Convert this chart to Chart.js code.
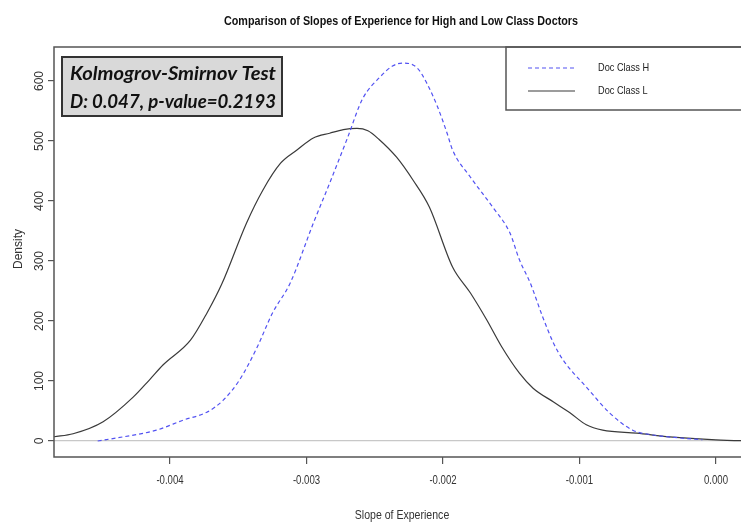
<!DOCTYPE html>
<html>
<head>
<meta charset="utf-8">
<script src="https://cdn.jsdelivr.net/npm/chart.js@4.4.1/dist/chart.umd.min.js"></script>
<style>
  html, body { margin: 0; padding: 0; background: #fff; overflow: hidden; }
</style>
</head>
<body>
<canvas id="chart" width="760" height="525"></canvas>
<script>
// density curves
const highSlope = [-0.00453, -0.00434, -0.00410, -0.00390, -0.00373, -0.00361, -0.00349, -0.00336, -0.00325, -0.00312,
  -0.00295, -0.00283, -0.00270, -0.00259, -0.00246, -0.00237, -0.00229, -0.00219, -0.00212, -0.00204,
  -0.00197, -0.00193, -0.00180, -0.00163, -0.00151, -0.00144, -0.00136, -0.00127, -0.00119, -0.00112,
  -0.00095, -0.00078, -0.00061, -0.00046, -0.00026, -0.00010]
const highDensity = [0, 7, 18, 35, 48, 68, 102, 157, 213, 263,
  363, 430, 505, 570, 607, 625, 630, 622, 597, 557,
  513, 485, 440, 388, 347, 302, 263, 207, 163, 135,
  90, 47, 18, 10, 5, 2]

const lowSlope = [-0.00485, -0.00471, -0.00449, -0.00427, -0.00415, -0.00405, -0.00385, -0.00373, -0.00362, -0.00344,
  -0.00332, -0.00319, -0.00307, -0.00295, -0.00283, -0.00273, -0.00263, -0.00255, -0.00247, -0.00234,
  -0.00222, -0.00210, -0.00193, -0.00180, -0.00168, -0.00157, -0.00144, -0.00134, -0.00119, -0.00107,
  -0.00095, -0.00083, -0.00058, -0.00034, 0, 0.00029]
const lowDensity = [7, 12, 32, 73, 102, 127, 168, 213, 262, 363,
  418, 463, 485, 505, 513, 519, 521, 517, 503, 473,
  435, 390, 290, 247, 202, 157, 113, 88, 65, 47,
  27, 18, 13, 7, 2, 0]

const seriesNames = ['Doc Class H', 'Doc Class L']
const xTicks = [-0.004, -0.003, -0.002, -0.001, 0]
const yTicks = [0, 100, 200, 300, 400, 500, 600]
const chartTitle = 'Comparison of Slopes of Experience for High and Low Class Doctors'
const xTitle = 'Slope of Experience'
const yTitle = 'Density'
const testLines = ['Kolmogrov-Smirnov Test', 'D: 0.047, p-value=0.2193']

const sans = '"Liberation Sans", Arial, sans-serif'
const axisGray = '#555'

const toPoints = (xs, ys) => xs.map((x, i) => ({ x, y: ys[i] }))

// the R picture was squeezed sideways, so horizontal text is drawn narrower
function squeezed (ctx, text, x, y, sx) {
  ctx.save()
  ctx.translate(x, y)
  ctx.scale(sx, 1)
  ctx.fillText(text, 0, 0)
  ctx.restore()
}

const decor = {
  id: 'decor',
  afterDatasetsDraw (chart) {
    const { ctx, chartArea: a } = chart
    ctx.save()

    // legend box in the top right corner
    const lx = 506
    const ly = a.top
    ctx.fillStyle = '#fff'
    ctx.fillRect(lx, ly, a.right - lx + 10, 63)
    ctx.strokeStyle = axisGray
    ctx.lineWidth = 1.5
    ctx.strokeRect(lx, ly, a.right - lx + 10, 63)
    chart.data.datasets.forEach((ds, i) => {
      const y = 68 + i * 23
      ctx.strokeStyle = ds.borderColor
      ctx.lineWidth = 1.2
      ctx.setLineDash(ds.borderDash || [])
      ctx.beginPath()
      ctx.moveTo(528, y)
      ctx.lineTo(575, y)
      ctx.stroke()
      ctx.setLineDash([])
      ctx.fillStyle = '#222'
      ctx.font = '11.5px ' + sans
      ctx.textAlign = 'left'
      ctx.textBaseline = 'middle'
      squeezed(ctx, ds.label, 598, y, 0.8)
    })

    // K-S test box
    ctx.fillStyle = '#d9d9d9'
    ctx.fillRect(62, 57, 220, 59)
    ctx.strokeStyle = '#333'
    ctx.lineWidth = 2
    ctx.strokeRect(62, 57, 220, 59)
    ctx.font = 'italic bold 19px Lato, "Open Sans", sans-serif'
    ctx.fillStyle = '#111'
    ctx.textAlign = 'left'
    ctx.textBaseline = 'middle'
    testLines.forEach((t, i) => {
      const w = ctx.measureText(t).width
      squeezed(ctx, t, 70, 74 + i * 28, Math.min(1.1, 206 / w))
    })
    ctx.restore()
  },
  afterDraw (chart) {
    const { ctx, chartArea: a, scales } = chart
    ctx.save()
    // plot box
    ctx.strokeStyle = axisGray
    ctx.lineWidth = 1.5
    ctx.strokeRect(a.left, a.top, a.right - a.left + 10, a.bottom - a.top)

    ctx.fillStyle = '#333'
    ctx.textAlign = 'center'
    ctx.textBaseline = 'middle'

    // y tick labels and title, rotated like R draws them
    ctx.font = '12px ' + sans
    yTicks.forEach(v => {
      const y = scales.y.getPixelForValue(v)
      ctx.save()
      ctx.translate(40, y)
      ctx.rotate(-Math.PI / 2)
      ctx.fillText(String(v), 0, 0)
      ctx.restore()
    })
    ctx.save()
    ctx.translate(19, (a.top + a.bottom) / 2 - 3)
    ctx.rotate(-Math.PI / 2)
    ctx.fillText(yTitle, 0, 0)
    ctx.restore()

    // x tick labels and title
    xTicks.forEach(v => {
      const x = scales.x.getPixelForValue(v)
      squeezed(ctx, (Math.abs(v) < 1e-12 ? 0 : v).toFixed(3), x, 481, 0.8)
    })
    squeezed(ctx, xTitle, 402, 516, 0.88)

    // title
    ctx.fillStyle = '#111'
    ctx.font = 'bold 13px ' + sans
    squeezed(ctx, chartTitle, 401, 21, 354 / ctx.measureText(chartTitle).width)
    ctx.restore()
  }
}

// eslint-disable-next-line no-unused-vars, no-undef
const chart = new Chart(document.querySelector('#chart'), {
  type: 'line',
  data: {
    datasets: [{
      label: seriesNames[0],
      data: toPoints(highSlope, highDensity),
      borderColor: '#5252f2',
      borderWidth: 1.2,
      borderDash: [4, 3],
      pointRadius: 0,
      cubicInterpolationMode: 'monotone',
      fill: false
    }, {
      label: seriesNames[1],
      data: toPoints(lowSlope, lowDensity),
      borderColor: '#3a3a3a',
      borderWidth: 1.2,
      pointRadius: 0,
      cubicInterpolationMode: 'monotone',
      fill: false
    }]
  },
  options: {
    responsive: false,
    animation: false,
    layout: { padding: { top: 47, left: 0, right: 5, bottom: 0 } },
    plugins: {
      legend: { display: false },
      title: { display: false },
      tooltip: { enabled: false }
    },
    scales: {
      x: {
        type: 'linear',
        min: -0.00485,
        max: 0.000286,
        afterFit: s => { s.height = 68 },
        afterBuildTicks: s => { s.ticks = xTicks.map(value => ({ value })) },
        border: { display: false },
        grid: { drawOnChartArea: false, tickLength: 7, tickColor: axisGray, lineWidth: 1.2 },
        ticks: { display: false }
      },
      y: {
        min: -26.7,
        max: 656.7,
        afterFit: s => { s.width = 54 },
        afterBuildTicks: s => { s.ticks = yTicks.map(value => ({ value })) },
        border: { display: false },
        grid: {
          drawOnChartArea: true,
          color: ctx => (ctx.tick && ctx.tick.value === 0 ? '#c8c8c8' : 'rgba(0,0,0,0)'),
          tickLength: 6,
          tickColor: axisGray,
          lineWidth: 1.2
        },
        ticks: { display: false }
      }
    }
  },
  plugins: [decor]
})
</script>
</body>
</html>
